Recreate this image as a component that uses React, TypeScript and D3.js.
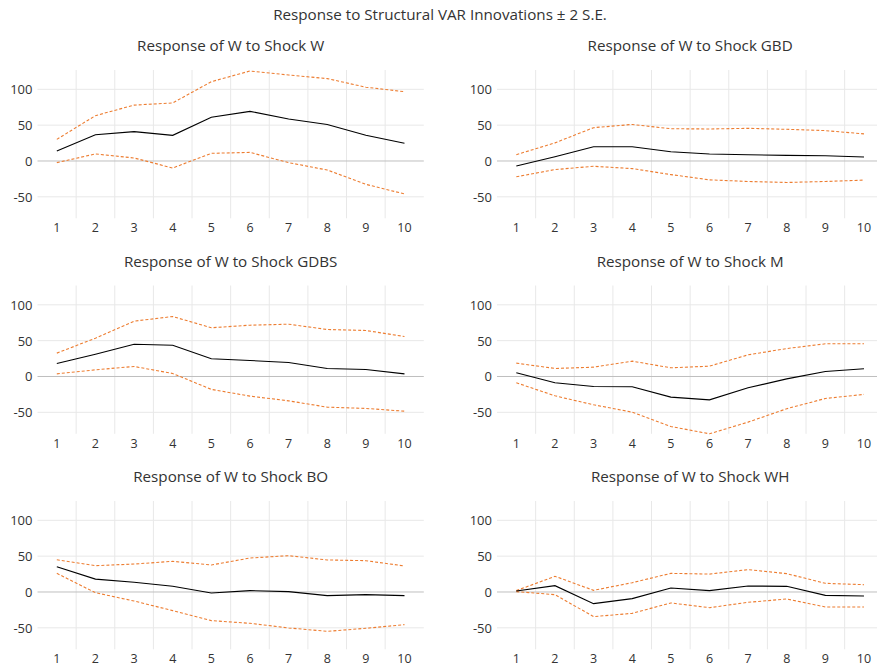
import { scaleBand, scaleLinear, line } from "d3";

const steps = ["1", "2", "3", "4", "5", "6", "7", "8", "9", "10"];
const yTicks = [-50, 0, 50, 100];

const shockNames = ["W", "GBD", "GDBS", "M", "BO", "WH"];

// point response and the ±2 S.E. bands
const respW = [14, 36.7, 41, 35.8, 61, 69.3, 58.6, 51, 35.8, 24.7];
const upW = [30.2, 63.3, 78, 81, 110.7, 125.6, 120, 115, 103, 96.7];
const loW = [-2.3, 9.8, 4.2, -9.8, 10.7, 12, -2.3, -12.6, -32.6, -46];

const respGBD = [-7, 6, 19.8, 19.8, 12.9, 9.7, 8.8, 7.8, 7.4, 5.5];
const upGBD = [8.8, 25.3, 46.5, 51, 45, 44.7, 45.6, 44.2, 42.4, 37.8];
const loGBD = [-22, -12, -7.4, -10.6, -19, -26.3, -28.6, -30, -28.6, -26.7];

const respGDBS = [18, 31, 45, 43.7, 24.7, 22.3, 19.5, 11.2, 9.8, 3.7];
const upGDBS = [32.6, 53.5, 77.2, 83.7, 68, 71.6, 73, 65.6, 64.2, 55.8];
const loGDBS = [3.7, 9.3, 14, 4.2, -18, -27.4, -34, -42.8, -44.6, -48.4];

const respM = [5.1, -8.8, -14, -14.4, -28.8, -32.6, -15.8, -3.3, 7, 10.7];
const upM = [18.6, 11.2, 13, 21.4, 12.1, 14.4, 30.2, 39, 45.6, 45.6];
const loM = [-8.8, -27, -39.5, -49.8, -69.8, -80, -63.7, -45, -30.7, -25];

const respBO = [35.3, 18, 13.5, 7.9, -1.4, 1.9, 0.5, -5.1, -3.7, -5.1];
const upBO = [45, 36.7, 39, 42.8, 37.7, 47.4, 50.7, 44.7, 43.7, 36.3];
const loBO = [26, -1, -12.6, -26, -40, -43.7, -50.2, -54.9, -50.7, -45.6];

const respWH = [1.4, 8.8, -16.3, -9.3, 5.6, 1.9, 8.4, 7.9, -4.7, -5.6];
const upWH = [1.9, 21.9, 2.3, 13, 26, 25, 31.2, 25.6, 12.1, 10.2];
const loWH = [0.5, -3.7, -34.4, -29.8, -15.3, -21.9, -14.4, -9.8, -20.9, -20.9];

const responses = [respW, respGBD, respGDBS, respM, respBO, respWH];
const uppers = [upW, upGBD, upGDBS, upM, upBO, upWH];
const lowers = [loW, loGBD, loGDBS, loM, loBO, loWH];

const W = 877;
const H = 667;
const FONT = "'Open Sans', 'Noto Sans', sans-serif";
const TEXT = "#333333";
const ORANGE = "#ED7D31";

const colX = [37.5, 497];
const plotW = 386.3;
const plotH = 148.3;
const rowTop = (r: number) => 70 + r * 215.5;

function Panel({ idx }: { idx: number }) {
  const col = idx % 2;
  const row = Math.floor(idx / 2);
  const x0 = colX[col];
  const top = rowTop(row);

  const x = scaleBand<string>().domain(steps).range([x0, x0 + plotW]);
  const y = scaleLinear().domain([-80, 127]).range([top + plotH, top]);
  const cx = (i: number) => (x(steps[i]) ?? 0) + x.bandwidth() / 2;
  const path = line<number>()
    .x((_, i) => cx(i))
    .y((d) => y(d));

  return (
    <g>
      <text
        x={x0 + plotW / 2}
        y={top - 25}
        textAnchor="middle"
        dominantBaseline="central"
        fontSize="15.2"
        fill={TEXT}
      >
        Response of W to Shock {shockNames[idx]}
      </text>
      {steps.slice(1).map((s) => (
        <line
          key={`v${s}`}
          x1={x(s)}
          x2={x(s)}
          y1={top}
          y2={top + plotH}
          stroke="#e8e8e8"
          strokeWidth="1"
        />
      ))}
      {yTicks.map((t) => (
        <g key={`h${t}`}>
          <line
            x1={x0}
            x2={x0 + plotW}
            y1={y(t)}
            y2={y(t)}
            stroke={t === 0 ? "#bfbfbf" : "#e8e8e8"}
            strokeWidth="1"
          />
          <text
            x={x0 - 5}
            y={y(t)}
            textAnchor="end"
            dominantBaseline="central"
            fontSize="13"
            fill={TEXT}
          >
            {t}
          </text>
        </g>
      ))}
      {steps.map((s, i) => (
        <text
          key={`x${s}`}
          x={cx(i)}
          y={top + plotH + 9.5}
          textAnchor="middle"
          dominantBaseline="central"
          fontSize="12.5"
          fill={TEXT}
        >
          {s}
        </text>
      ))}
      <path d={path(uppers[idx]) ?? ""} fill="none" stroke={ORANGE} strokeWidth="1.1" strokeDasharray="3,2" />
      <path d={path(lowers[idx]) ?? ""} fill="none" stroke={ORANGE} strokeWidth="1.1" strokeDasharray="3,2" />
      <path d={path(responses[idx]) ?? ""} fill="none" stroke="#000" strokeWidth="1.1" />
    </g>
  );
}

export default function App() {
  return (
    <div style={{ position: "absolute", left: 0, top: 0, width: W, height: H, background: "#fff" }}>
      <svg width={W} height={H} viewBox={`0 0 ${W} ${H}`} fontFamily={FONT} style={{ display: "block" }}>
        <rect width={W} height={H} fill="#fff" />
        <text x={440} y={14} textAnchor="middle" dominantBaseline="central" fontSize="15.2" fill={TEXT}>
          Response to Structural VAR Innovations ± 2 S.E.
        </text>
        {shockNames.map((_, i) => (
          <Panel key={i} idx={i} />
        ))}
      </svg>
    </div>
  );
}
